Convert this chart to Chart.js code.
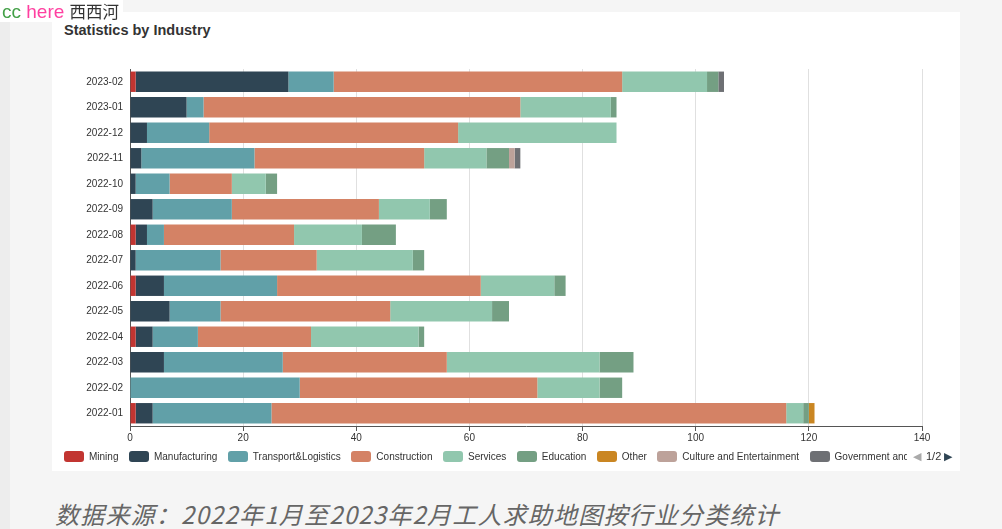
<!DOCTYPE html>
<html>
<head>
<meta charset="utf-8">
<script src="https://cdn.jsdelivr.net/npm/chart.js@4.4.0/dist/chart.umd.min.js"></script>
<style>
  html, body { margin: 0; padding: 0; }
  body { width: 1002px; height: 529px; overflow: hidden; background: #f5f5f5; position: relative; font-family: "Liberation Sans", Arial, sans-serif; }
  .strip { position: absolute; left: 0; top: 22px; width: 10px; height: 507px; background: #ededed; }
  .card { position: absolute; left: 52px; top: 12px; width: 908px; height: 459px; background: #fff; }
  .brand { position: absolute; left: 0; top: 0; width: 123px; height: 22px; background: #fff; font-size: 19px; line-height: 22px; white-space: nowrap; z-index: 5; }
  .brand .cc { color: #43a047; margin-left: 2px; }
  .brand .here { color: #ff3fa0; }
  .brand .cn { color: #333; font-family: "Noto Sans CJK SC", sans-serif; font-size: 16.5px; }
  .title { position: absolute; left: 64px; top: 21px; font-size: 14.5px; font-weight: bold; color: #333; line-height: 18px; }
  canvas { position: absolute; left: 0; top: 0; z-index: 2; }
  .legend { position: absolute; left: 64px; top: 451px; width: 843px; height: 13px; overflow: hidden; white-space: nowrap; font-size: 10px; color: #333; line-height: 12px; z-index: 3; }
  .legend span.item { display: inline-block; margin-right: 10.5px; }
  .legend i { display: inline-block; width: 20px; height: 11px; border-radius: 3px; vertical-align: -2px; margin-right: 5px; }
  .pager { position: absolute; left: 913px; top: 450px; font-size: 11px; line-height: 13px; color: #333; z-index: 3; white-space: nowrap; }
  .pager .prev { color: #aaa; margin-right: 5px; }
  .pager .next { color: #2f4554; margin-left: 3px; }
  .caption { position: absolute; left: 55px; top: 499px; font-size: 24px; letter-spacing: 1.2px; line-height: 30px; font-style: italic; color: #666; font-family: "Noto Sans CJK SC", sans-serif; white-space: nowrap; }
</style>
</head>
<body>
<div class="strip"></div>
<div class="card"></div>
<div class="brand"><span class="cc">cc</span> <span class="here">here</span> <span class="cn">西西河</span></div>
<div class="title">Statistics by Industry</div>
<canvas id="chart" width="1002" height="529"></canvas>
<div class="legend" id="legend"></div>
<div class="pager"><span class="prev">◀</span>1/2<span class="next">▶</span></div>
<div class="caption">数据来源：2022年1月至2023年2月工人求助地图按行业分类统计</div>

<script>
const months = ['2022-01', '2022-02', '2022-03', '2022-04', '2022-05', '2022-06', '2022-07',
  '2022-08', '2022-09', '2022-10', '2022-11', '2022-12', '2023-01', '2023-02'];

const mining        = [1, 0, 0, 1, 0, 1, 0, 1, 0, 0, 0, 0, 0, 1];
const manufacturing = [3, 0, 6, 3, 7, 5, 1, 2, 4, 1, 2, 3, 10, 27];
const transport     = [21, 30, 21, 8, 9, 20, 15, 3, 14, 6, 20, 11, 3, 8];
const construction  = [91, 42, 29, 20, 30, 36, 17, 23, 26, 11, 30, 44, 56, 51];
const services      = [3, 11, 27, 19, 18, 13, 17, 12, 9, 6, 11, 28, 16, 15];
const education     = [1, 4, 6, 1, 3, 2, 2, 6, 3, 2, 4, 0, 1, 2];
const other         = [1, 0, 0, 0, 0, 0, 0, 0, 0, 0, 0, 0, 0, 0];
const culture       = [0, 0, 0, 0, 0, 0, 0, 0, 0, 0, 1, 0, 0, 0];
const government    = [0, 0, 0, 0, 0, 0, 0, 0, 0, 0, 1, 0, 0, 1];

const xTicks = [0, 20, 40, 60, 80, 100, 120, 140];

const series = [
  {name: 'Mining', data: mining, color: '#c23531'},
  {name: 'Manufacturing', data: manufacturing, color: '#2f4554'},
  {name: 'Transport&Logistics', data: transport, color: '#61a0a8'},
  {name: 'Construction', data: construction, color: '#d48265'},
  {name: 'Services', data: services, color: '#91c7ae'},
  {name: 'Education', data: education, color: '#749f83'},
  {name: 'Other', data: other, color: '#ca8622'},
  {name: 'Culture and Entertainment', data: culture, color: '#bda29a'},
  {name: 'Government and Public Administration', data: government, color: '#6e7074'}
];

// legend (echarts style, scrollable page 1/2)
document.getElementById('legend').innerHTML = series.map(s =>
  `<span class="item"><i style="background:${s.color}"></i>${s.name}</span>`).join('');

const font = {family: '"Liberation Sans", Arial, sans-serif', size: 10};

new Chart(document.getElementById('chart'), {
  type: 'bar',
  data: {
    labels: months,
    datasets: series.map(s => ({
      label: s.name,
      data: s.data,
      backgroundColor: s.color,
      borderWidth: 0,
      barPercentage: 0.8,
      categoryPercentage: 1
    }))
  },
  options: {
    indexAxis: 'y',
    responsive: false,
    animation: false,
    layout: {padding: {left: 0, top: 69, right: 80, bottom: 83}},
    plugins: {legend: {display: false}, tooltip: {enabled: false}},
    scales: {
      x: {
        stacked: true,
        min: 0,
        max: 140,
        afterBuildTicks: (s) => { s.ticks = xTicks.map(v => ({value: v})); },
        afterFit: (s) => { s.height = 20; },
        grid: {color: '#e0e0e0', tickColor: '#555', tickLength: 5, drawTicks: true},
        border: {display: true, color: '#555'},
        ticks: {color: '#333', font: font, padding: 1, maxRotation: 0}
      },
      y: {
        stacked: true,
        reverse: true,
        afterFit: (s) => { s.width = 130; },
        grid: {display: false, drawTicks: false},
        border: {display: true, color: '#555'},
        ticks: {color: '#333', font: font, padding: 7}
      }
    }
  }
});
</script>
</body>
</html>
